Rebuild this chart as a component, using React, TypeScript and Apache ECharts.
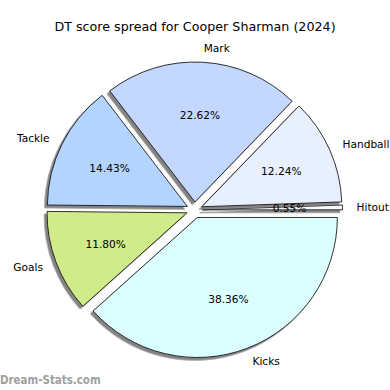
import React, { useEffect, useRef } from "react";
import * as echarts from "echarts";

const categories = ["Hitout", "Handball", "Mark", "Tackle", "Goals", "Kicks"];
const percents = [0.55, 12.24, 22.62, 14.43, 11.8, 38.36];
const colors = ["#f4f8ff", "#e8f0ff", "#c4d8ff", "#b3d4ff", "#d0eb8a", "#dbffff"];
const titleText = "DT score spread for Cooper Sharman (2024)";
const watermark = "Dream-Stats.com";

export default function App() {
  const ref = useRef<HTMLDivElement>(null);
  useEffect(() => {
    if (!ref.current) return;
    const chart = echarts.init(ref.current, undefined, { renderer: "svg" });
    const font = "DejaVu Sans";
    const R = 140;
    const baseData = categories.map((c, i) => ({
      name: c,
      value: percents[i],
      selected: true,
      itemStyle: { color: colors[i] },
    }));
    const common = {
      type: "pie",
      center: [194.5, 210],
      startAngle: 0,
      clockwise: false,
      selectedMode: "multiple",
      selectedOffset: 8,
      avoidLabelOverlap: false,
      silent: true,
      animation: false,
      emphasis: { disabled: true },
    };
    chart.setOption({
      animation: false,
      title: {
        text: titleText,
        left: "center",
        top: 15,
        textStyle: { fontFamily: font, fontSize: 12.7, fontWeight: "normal", color: "#000" },
      },
      graphic: [
        {
          type: "text",
          left: 0,
          top: 374,
          style: {
            text: watermark,
            fontFamily: font,
            fontSize: 11.7,
            fontWeight: "bold",
            fill: "#a0a0a0",
          },
          scaleX: 0.88,
        },
      ],
      series: [
        {
          ...common,
          radius: [0, R],
          data: baseData,
          itemStyle: {
            borderColor: "#000",
            borderWidth: 0.8,
            shadowColor: "rgba(90,90,90,0.75)",
            shadowBlur: 1,
            shadowOffsetX: -2.7,
            shadowOffsetY: 2.7,
          },
          label: {
            show: true,
            position: "outside",
            formatter: "{b}",
            fontFamily: font,
            fontSize: 10.6,
            color: "#000",
            distanceToLabelLine: 0,
          },
          labelLine: { show: false, length: R * 0.1, length2: 0 },
        },
        {
          ...common,
          radius: [R * 0.2, R],
          data: categories.map((c, i) => ({ name: c, value: percents[i], selected: true })),
          itemStyle: { color: "rgba(0,0,0,0)", borderWidth: 0 },
          label: {
            show: true,
            position: "inside",
            formatter: (p: any) => p.percent.toFixed(2) + "%",
            fontFamily: font,
            fontSize: 10.6,
            color: "#000",
          },
          labelLine: { show: false },
        },
      ],
    });
    return () => chart.dispose();
  }, []);
  return (
    <div
      ref={ref}
      style={{ position: "fixed", left: 0, top: 0, width: 390, height: 390, background: "#fff" }}
    />
  );
}
